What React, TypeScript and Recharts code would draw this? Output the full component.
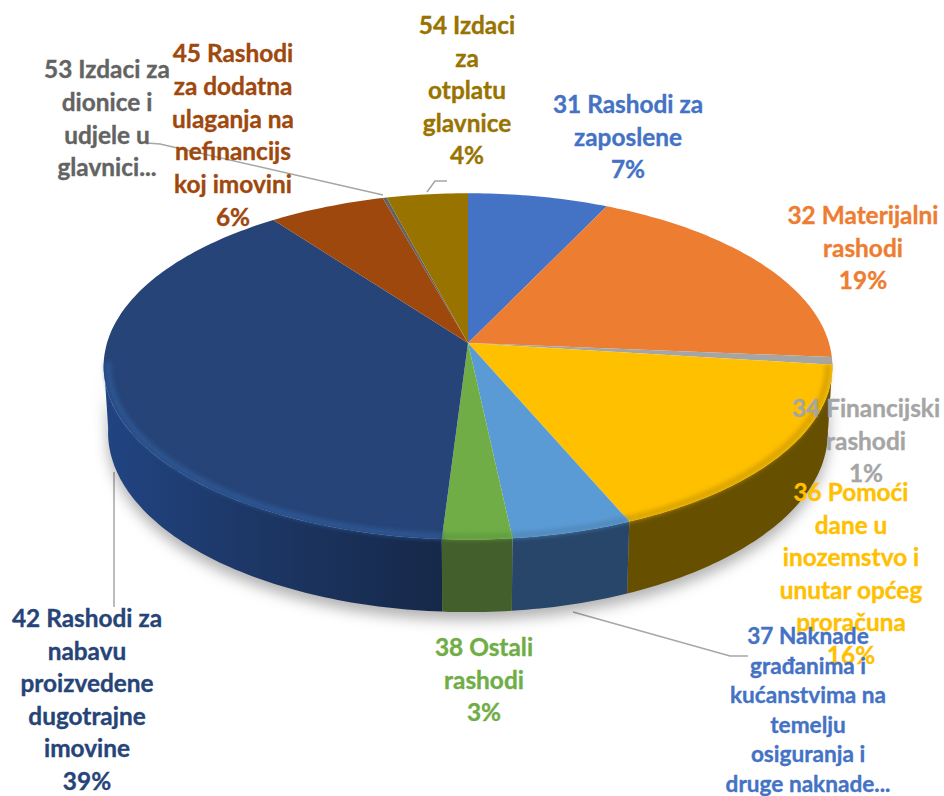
import { PieChart, Pie, Cell } from 'recharts'

const categories = [
  '31 Rashodi za zaposlene',
  '32 Materijalni rashodi',
  '34 Financijski rashodi',
  '36 Pomoći dane u inozemstvo i unutar općeg proračuna',
  '37 Naknade građanima i kućanstvima na temelju osiguranja i druge naknade',
  '38 Ostali rashodi',
  '42 Rashodi za nabavu proizvedene dugotrajne imovine',
  '45 Rashodi za dodatna ulaganja na nefinancijskoj imovini',
  '53 Izdaci za dionice i udjele u glavnici',
  '54 Izdaci za otplatu glavnice',
]
const shares = [7.1, 19.2, 0.7, 16.6, 4.7, 2.7, 38.8, 5.9, 0.2, 4.1]

const labelLines = [
  ['31 Rashodi za', 'zaposlene', '7%'],
  ['32 Materijalni', 'rashodi', '19%'],
  ['34 Financijski', 'rashodi', '1%'],
  ['36 Pomoći', 'dane u', 'inozemstvo i', 'unutar općeg', 'proračuna', '16%'],
  ['37 Naknade', 'građanima i', 'kućanstvima na', 'temelju', 'osiguranja i', 'druge naknade...'],
  ['38 Ostali', 'rashodi', '3%'],
  ['42 Rashodi za', 'nabavu', 'proizvedene', 'dugotrajne', 'imovine', '39%'],
  ['45 Rashodi', 'za dodatna', 'ulaganja na', 'nefinancijs', 'koj imovini', '6%'],
  ['53 Izdaci za', 'dionice i', 'udjele u', 'glavnici...'],
  ['54 Izdaci', 'za', 'otplatu', 'glavnice', '4%'],
]

const topColors = ['#4472c4', '#ed7d31', '#a5a5a5', '#ffc000', '#5b9bd5', '#70ad47', '#264478', '#9e480e', '#636363', '#997300']
const wallColors = ['#29457a', '#8f4b1d', '#646464', '#665000', '#27466a', '#435f2b', 'url(#wall42)', '#5f2b08', '#3c3c3c', '#5c4500']
const rimColors = ['#4472c4', '#ed7d31', '#a5a5a5', '#d19d00', '#4f86b8', '#5f9a3c', '#2f5a98', '#9e480e', '#636363', '#997300']
const textColors = ['#4472c4', '#ed7d31', '#a5a5a5', '#ffc000', '#4472c4', '#70ad47', '#264478', '#9e480e', '#636363', '#997300']

// where Excel left each data label: centre x, first line y, line step
const labelSpots = [
  { x: 628, y: 113, step: 32.5 },
  { x: 863, y: 224, step: 32.5 },
  { x: 866, y: 417, step: 32.5 },
  { x: 851, y: 501, step: 32.6 },
  { x: 808, y: 644, step: 29.6, size: 22.6 },
  { x: 484, y: 656, step: 32.5 },
  { x: 87, y: 627, step: 32.6 },
  { x: 233, y: 62, step: 32.8 },
  { x: 107, y: 78, step: 32.8 },
  { x: 467, y: 34, step: 32.5 },
]

const leaderLines = [
  '147,143 160,144 383,195',
  '447,181 435,181 427,192',
  '114,472 114,607',
  '573,612 730,656 748,656',
]

// flat circle -> tilted picture plane
const PIE_CX = 468
const PIE_CY = 343
const WIDE = 361
const TALL = 170
const DEPTH = 66
const PERSP = 0.135
const PERSP_Z = 0.012
const FRONT_START = 96.4
const FRONT_END = 263.6

const project = (clock: number, z = 0, r = 1) => {
  const rad = (clock * Math.PI) / 180
  const u = Math.sin(rad) * r
  const v = Math.cos(rad) * r
  const w = 1 + PERSP * v + PERSP_Z * z
  return { x: PIE_CX + (WIDE * u) / w, y: PIE_CY + (-TALL * v + DEPTH * z) / w }
}

const arcPoints = (from: number, to: number, z = 0, r = 1) => {
  const steps = Math.max(2, Math.ceil(Math.abs(to - from)))
  const pts = []
  for (let i = 0; i <= steps; i++) {
    const p = project(from + ((to - from) * i) / steps, z, r)
    pts.push(`${p.x.toFixed(1)} ${p.y.toFixed(1)}`)
  }
  return pts
}

function TopSlice(props: any) {
  const from = 90 - props.startAngle
  const to = 90 - props.endAngle
  const d = `M${PIE_CX} ${PIE_CY} L${arcPoints(from, to).join(' L')} Z`
  const a = Math.max(from, FRONT_START)
  const b = Math.min(to, FRONT_END)
  return (
    <g>
      <path d={d} fill={topColors[props.index]} />
      {b > a && (
        <path
          d={`M${arcPoints(a, b, 0, 0.988).join(' L')}`}
          fill="none"
          stroke={rimColors[props.index]}
          strokeWidth={5}
          filter="url(#rimBlur)"
        />
      )}
    </g>
  )
}

function WallSlice(props: any) {
  const a = Math.max(90 - props.startAngle, FRONT_START)
  const b = Math.min(90 - props.endAngle, FRONT_END)
  if (b <= a) return <g />
  const d = `M${arcPoints(a, b).join(' L')} L${arcPoints(b, a, 1).join(' L')} Z`
  return <path d={d} fill={wallColors[props.index]} />
}

function SliceLabel(props: any) {
  const spot = labelSpots[props.index]
  return (
    <text
      textAnchor="middle"
      fontFamily="Lato, sans-serif"
      fontWeight={700}
      fontSize={spot.size ?? 24.4}
      fill={textColors[props.index]}
      stroke={textColors[props.index]}
      strokeWidth={0.35}
    >
      {labelLines[props.index].map((line, i) => (
        <tspan key={i} x={spot.x} y={spot.y + i * spot.step}>
          {line}
        </tspan>
      ))}
    </text>
  )
}

const data = categories.map((name, i) => ({ name, value: shares[i] }))

export default function App() {
  return (
    <div style={{ position: 'absolute', left: 0, top: 0, width: 944, height: 796 }}>
      <style>{`.pie-walls { filter: drop-shadow(0 8px 7px rgba(0,0,0,0.3)); }`}</style>
      <PieChart width={944} height={796} margin={{ top: 0, right: 0, bottom: 0, left: 0 }}>
        <defs>
          <linearGradient id="wall42" gradientUnits="userSpaceOnUse" x1="104" y1="0" x2="444" y2="0">
            <stop offset="0%" stopColor="#214482" />
            <stop offset="40%" stopColor="#1d3868" />
            <stop offset="100%" stopColor="#162848" />
          </linearGradient>
          <filter id="rimBlur" filterUnits="userSpaceOnUse" x="0" y="0" width="944" height="796">
            <feGaussianBlur stdDeviation="2.6" />
          </filter>
        </defs>
        <Pie
          data={data}
          dataKey="value"
          cx={PIE_CX}
          cy={PIE_CY}
          outerRadius={300}
          startAngle={90}
          endAngle={-270}
          stroke="none"
          className="pie-walls"
          shape={WallSlice}
          isAnimationActive={false}
        />
        <Pie
          data={data}
          dataKey="value"
          cx={PIE_CX}
          cy={PIE_CY}
          outerRadius={300}
          startAngle={90}
          endAngle={-270}
          stroke="none"
          shape={TopSlice}
          label={SliceLabel}
          labelLine={false}
          isAnimationActive={false}
        >
          {data.map((d, i) => (
            <Cell key={d.name} fill={topColors[i]} />
          ))}
        </Pie>
        {leaderLines.map((pts) => (
          <polyline key={pts} points={pts} fill="none" stroke="#a6a6a6" strokeWidth={1.5} />
        ))}
      </PieChart>
    </div>
  )
}
